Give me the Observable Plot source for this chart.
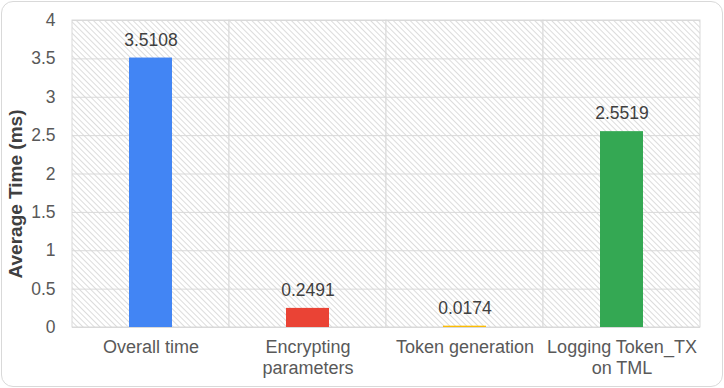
<!DOCTYPE html>
<html>
<head>
<meta charset="utf-8">
<script src="https://cdn.jsdelivr.net/npm/d3@7"></script>
<script src="https://cdn.jsdelivr.net/npm/@observablehq/plot@0.6"></script>
<style>
  html, body { margin: 0; padding: 0; background: #fff; }
  #wrap { position: relative; width: 724px; height: 388px; overflow: hidden; }
  #border { position: absolute; left: 1px; top: 1px; width: 720px; height: 384px;
            border: 1px solid #d9d9d9; border-radius: 12px; pointer-events: none; }
</style>
</head>
<body>
<div id="wrap"><div id="border"></div></div>
<script>
const categories = ["Overall time", "Encrypting\nparameters", "Token generation", "Logging Token_TX\non TML"];
const values = [3.5108, 0.2491, 0.0174, 2.5519];
const valueLabels = ["3.5108", "0.2491", "0.0174", "2.5519"];
const colors = ["#4285F4", "#EA4335", "#FBBC04", "#34A853"];
const yTicks = [0, 0.5, 1, 1.5, 2, 2.5, 3, 3.5, 4];
const yMax = 4;
const yTitle = "Average Time (ms)";

const data = categories.map((c, i) => ({category: c, value: values[i], label: valueLabels[i], color: colors[i]}));

const chart = Plot.plot({
  width: 724,
  height: 388,
  marginLeft: 72,
  marginRight: 24,
  marginTop: 20,
  marginBottom: 61,
  style: {fontFamily: "'Liberation Sans', Arial, sans-serif", fontSize: "17.5px", color: "#595959", background: "transparent"},
  x: {domain: categories, padding: 0, label: null},
  y: {domain: [0, yMax], label: null},
  marks: [
    Plot.barY(categories, {x: d => d, y1: 0, y2: yMax, fill: "url(#hatch)", stroke: "#d9d9d9", strokeWidth: 1}),
    Plot.gridY(yTicks, {stroke: "#d9d9d9", strokeOpacity: 1, strokeWidth: 1}),
    Plot.barY(data, {x: "category", y: "value", fill: "color", insetLeft: 57, insetRight: 57}),
    Plot.text(data, {x: "category", y: "value", text: "label", dy: -18, fill: "#404040", fontSize: 17.5}),
    Plot.axisY({ticks: yTicks, tickSize: 0, tickPadding: 17, tickFormat: d => String(d), fill: "#595959", fontSize: 17.5, label: null}),
    Plot.axisX({tickSize: 0, tickPadding: 10, fill: "#595959", fontSize: 18, lineHeight: 1.2, label: null}),
    Plot.text([yTitle], {frameAnchor: "left", textAnchor: "middle", dx: -57, dy: 20, rotate: -90, fontWeight: "bold", fill: "#404040", fontSize: 19, text: d => d})
  ]
});

const svg = d3.select(chart);
const defs = svg.insert("defs", ":first-child");
const pat = defs.append("pattern")
  .attr("id", "hatch")
  .attr("patternUnits", "userSpaceOnUse")
  .attr("width", 4).attr("height", 4)
  .attr("patternTransform", "rotate(45)");
pat.append("rect").attr("width", 4).attr("height", 4).attr("fill", "#ffffff");
pat.append("line").attr("x1", 0).attr("y1", 0.5).attr("x2", 4).attr("y2", 0.5)
  .attr("stroke", "#dcdcdc").attr("stroke-width", 1);

document.getElementById("wrap").prepend(chart);
</script>
</body>
</html>
